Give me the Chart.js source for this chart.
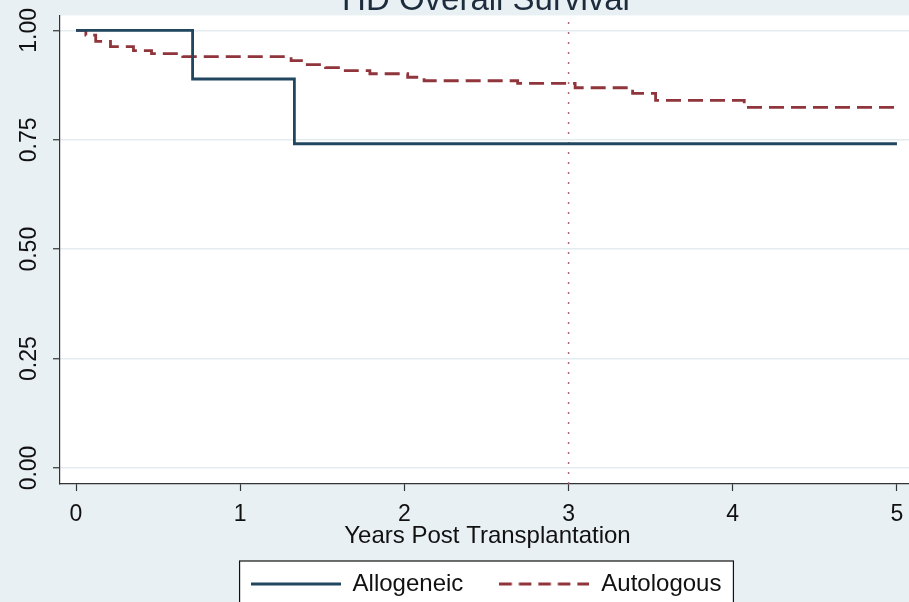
<!DOCTYPE html>
<html>
<head>
<meta charset="utf-8">
<script src="https://cdn.jsdelivr.net/npm/chart.js@4.4.0/dist/chart.umd.min.js"></script>
<style>
  html, body { margin: 0; padding: 0; background: #e9f0f3; overflow: hidden; width: 909px; height: 602px; }
  #km { position: absolute; left: 0; top: -12px; }
</style>
</head>
<body>
<canvas id="km" width="972" height="618"></canvas>
<script>
const chartTitle = 'HD Overall Survival';
const xTitle = 'Years Post Transplantation';
const seriesNames = ['Allogeneic', 'Autologous'];

// Kaplan-Meier steps
const alloYears = [0, 0.71, 1.33, 5.0];
const alloSurv = [1.0, 0.889, 0.741, 0.741];

const autoYears = [0, 0.06, 0.12, 0.21, 0.35, 0.46, 0.65, 1.31, 1.39, 1.52, 1.64, 1.79, 2.02, 2.12, 2.69, 3.04, 3.39, 3.53, 4.07, 5.0];
const autoSurv = [1.0, 0.989, 0.975, 0.963, 0.954, 0.947, 0.940, 0.931, 0.922, 0.915, 0.908, 0.901, 0.893, 0.885, 0.879, 0.869, 0.856, 0.840, 0.824, 0.824];

const xTicks = [0, 1, 2, 3, 4, 5];
const yTicks = [0, 0.25, 0.5, 0.75, 1];
const xRange = [-0.0975, 5.11];
const yRange = [-0.0366, 1.0343];
const refYear = 3;

const fontFamily = "'Liberation Sans', Arial, sans-serif";
const colors = ['#21465f', '#90353b'];
const dashes = [[], [12.5, 7]];

const toPoints = (xs, ys) => xs.map((x, i) => ({ x: x, y: ys[i] }));

// little line samples for the legend (Chart.js ignores dashes on point styles)
const makeSwatch = (color, dash) => {
    const c = document.createElement('canvas');
    c.width = 90;
    c.height = 6;
    const g = c.getContext('2d');
    g.strokeStyle = color;
    g.lineWidth = 2.8;
    g.setLineDash(dash);
    g.beginPath();
    g.moveTo(0, 3);
    g.lineTo(90, 3);
    g.stroke();
    return c;
};
const swatches = colors.map((c, i) => makeSwatch(c, dashes[i]));

// backgrounds + the framed legend
const legendFrame = (chart) => {
    const boxes = chart.legend && chart.legend.legendHitBoxes;
    if (!boxes || !boxes.length) return null;
    const left = Math.min(...boxes.map(b => b.left)) - 11;
    const right = Math.max(...boxes.map(b => b.left + b.width)) + 12;
    const mid = boxes[0].top + boxes[0].height / 2;
    return { left: left, top: mid - 23, width: right - left, height: 46 };
};

const paintPlugin = {
    id: 'paint',
    beforeDraw(chart) {
        const { ctx, chartArea: a, width, height } = chart;
        ctx.save();
        ctx.fillStyle = '#e9f0f3';
        ctx.fillRect(0, 0, width, height);
        ctx.fillStyle = '#ffffff';
        ctx.fillRect(a.left, a.top, a.right - a.left, a.bottom - a.top);
        const f = legendFrame(chart);
        if (f) ctx.fillRect(f.left, f.top, f.width, f.height);
        ctx.restore();
    },
    afterDraw(chart) {
        const f = legendFrame(chart);
        if (!f) return;
        const ctx = chart.ctx;
        ctx.save();
        ctx.strokeStyle = '#111';
        ctx.lineWidth = 1.2;
        ctx.strokeRect(f.left, f.top, f.width, f.height);
        ctx.restore();
    }
};

new Chart(document.getElementById('km'), {
    type: 'line',
    data: {
        datasets: [{
            label: seriesNames[0],
            data: toPoints(alloYears, alloSurv),
            stepped: 'before',
            borderColor: colors[0],
            borderWidth: 2.8,
            pointRadius: 0,
            fill: false
        }, {
            label: seriesNames[1],
            data: toPoints(autoYears, autoSurv),
            stepped: 'before',
            borderColor: colors[1],
            borderWidth: 2.8,
            borderDash: [15, 7],
            pointRadius: 0,
            fill: false
        }, {
            label: 'ref',
            data: [{ x: refYear, y: yRange[0] }, { x: refYear, y: yRange[1] }],
            borderColor: '#b06878',
            borderWidth: 1.5,
            borderDash: [2, 8],
            pointRadius: 0,
            fill: false
        }]
    },
    options: {
        responsive: false,
        animation: false,
        layout: { padding: 0 },
        scales: {
            x: {
                type: 'linear',
                min: xRange[0],
                max: xRange[1],
                afterBuildTicks: s => { s.ticks = xTicks.map(v => ({ value: v })); },
                grid: {
                    drawOnChartArea: false,
                    tickLength: 7,
                    tickColor: '#333',
                    tickWidth: 1.2
                },
                border: { color: '#333', width: 1.2 },
                ticks: {
                    color: '#111',
                    autoSkip: false,
                    maxRotation: 0,
                    padding: 12,
                    font: { family: fontFamily, size: 23, lineHeight: 1 }
                },
                title: {
                    display: true,
                    text: xTitle,
                    color: '#111',
                    padding: { top: -14, bottom: -12 },
                    font: { family: fontFamily, size: 24, lineHeight: 1 }
                }
            },
            y: {
                type: 'linear',
                min: yRange[0],
                max: yRange[1],
                afterBuildTicks: s => { s.ticks = yTicks.map(v => ({ value: v })); },
                afterFit: s => { s.width = 60; },
                grid: {
                    color: '#e3ecef',
                    lineWidth: 1.5,
                    tickLength: 7,
                    tickColor: '#333',
                    tickWidth: 1.2
                },
                border: { color: '#333', width: 1.2 },
                ticks: {
                    color: '#111',
                    autoSkip: false,
                    minRotation: 90,
                    maxRotation: 90,
                    crossAlign: 'center',
                    padding: 1,
                    callback: v => v.toFixed(2),
                    font: { family: fontFamily, size: 23, lineHeight: 1 }
                }
            },
            yPad: {
                position: 'right',
                afterFit: s => { s.width = 57; },
                grid: { display: false },
                border: { display: false },
                ticks: { display: false }
            }
        },
        plugins: {
            title: {
                display: true,
                text: chartTitle,
                color: '#1c2c3c',
                padding: { top: 0, bottom: 1 },
                font: { family: fontFamily, size: 33, weight: 'normal', lineHeight: 0.8 }
            },
            legend: {
                position: 'bottom',
                labels: {
                    usePointStyle: true,
                    pointStyleWidth: 90,
                    color: '#111',
                    padding: 36,
                    font: { family: fontFamily, size: 24 },
                    generateLabels: chart => {
                        const items = Chart.defaults.plugins.legend.labels.generateLabels(chart);
                        items.forEach(it => { if (swatches[it.datasetIndex]) it.pointStyle = swatches[it.datasetIndex]; });
                        return items;
                    },
                    filter: item => item.datasetIndex < 2
                }
            },
            tooltip: { enabled: false }
        }
    },
    plugins: [paintPlugin]
});
</script>
</body>
</html>
